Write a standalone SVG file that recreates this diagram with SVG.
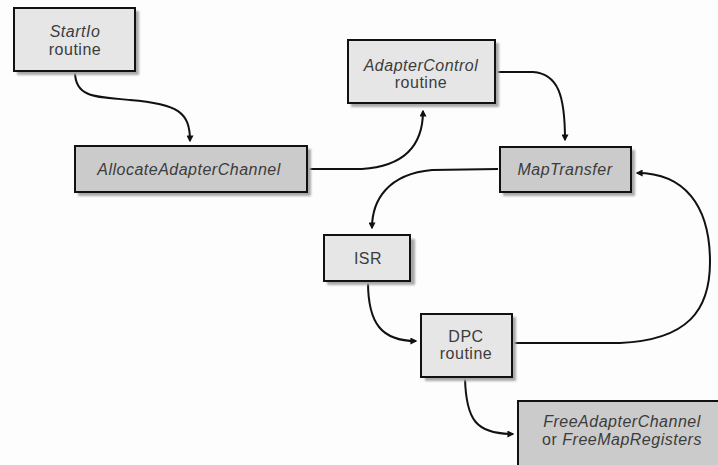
<svg xmlns="http://www.w3.org/2000/svg" width="718" height="465" viewBox="0 0 718 465">
  <style>
    .box { stroke: #111; stroke-width: 2; }
    .light { fill: #e6e6e6; }
    .dark { fill: #cbcbcb; }
    .shadow { fill: #a8a8a8; }
    .label { font-family: "Liberation Sans", Arial, sans-serif; font-size: 16px; fill: #3c3c3c; text-anchor: middle; letter-spacing: 0.5px; }
    .it { font-style: italic; }
    .wire { fill: none; stroke: #111; stroke-width: 2; marker-end: url(#head); }
  </style>
  <defs>
    <marker id="head" viewBox="0 0 10 10" refX="8" refY="5" markerWidth="3.5" markerHeight="3.5" orient="auto" markerUnits="strokeWidth">
      <path d="M0,0 L10,5 L0,10 z" fill="#111"/>
    </marker>
    <filter id="soft" x="-10%" y="-10%" width="130%" height="130%">
      <feGaussianBlur stdDeviation="1"/>
    </filter>
  </defs>

  <rect width="718" height="465" fill="#fdfdfd"/>

  <!-- connectors -->
  <g id="connectors">
    <path class="wire" d="M75,72 C75,96 92,97 130,100 C178,104 190,112 190,141"/>
    <path class="wire" d="M308,169 L362,169 C408,166 423,142 423,111"/>
    <path class="wire" d="M496,72 L533,72 C558,74 565,95 565,140"/>
    <path class="wire" d="M498,169 L432,170 C388,174 372,200 372,228"/>
    <path class="wire" d="M368,282 C368,324 382,341 416,341"/>
    <path class="wire" d="M513,343 L620,343 C688,340 710,310 710,262 C710,205 684,173 637,173"/>
    <path class="wire" d="M465,378 C466,420 476,434 513,434"/>
  </g>

  <!-- StartIo routine -->
  <g id="startio">
    <rect class="shadow" x="17" y="11" width="122" height="64" filter="url(#soft)"/>
    <rect class="box light" x="14" y="8" width="121" height="63"/>
    <text class="label" x="75" y="37"><tspan class="it">StartIo</tspan></text>
    <text class="label" x="75" y="55">routine</text>
  </g>

  <!-- AllocateAdapterChannel -->
  <g id="allocate">
    <rect class="shadow" x="78" y="149" width="233" height="47" filter="url(#soft)"/>
    <rect class="box dark" x="75" y="146" width="232" height="46"/>
    <text class="label it" x="189" y="175">AllocateAdapterChannel</text>
  </g>

  <!-- AdapterControl routine -->
  <g id="adaptercontrol">
    <rect class="shadow" x="351" y="43" width="148" height="64" filter="url(#soft)"/>
    <rect class="box light" x="348" y="40" width="147" height="63"/>
    <text class="label" x="421" y="71"><tspan class="it">AdapterControl</tspan></text>
    <text class="label" x="421" y="88">routine</text>
  </g>

  <!-- MapTransfer -->
  <g id="maptransfer">
    <rect class="shadow" x="503" y="150" width="132" height="46" filter="url(#soft)"/>
    <rect class="box dark" x="500" y="147" width="131" height="45"/>
    <text class="label it" x="565" y="175">MapTransfer</text>
  </g>

  <!-- ISR -->
  <g id="isr">
    <rect class="shadow" x="327" y="239" width="88" height="46" filter="url(#soft)"/>
    <rect class="box light" x="324" y="235" width="86" height="46"/>
    <text class="label" x="368" y="264">ISR</text>
  </g>

  <!-- DPC routine -->
  <g id="dpc">
    <rect class="shadow" x="425" y="317" width="91" height="64" filter="url(#soft)"/>
    <rect class="box light" x="421" y="314" width="91" height="63"/>
    <text class="label" x="466" y="342">DPC</text>
    <text class="label" x="466" y="359">routine</text>
  </g>

  <!-- FreeAdapterChannel or FreeMapRegisters -->
  <g id="freechannel">
    <rect class="box dark" x="518" y="401" width="210" height="70"/>
    <text class="label it" x="622" y="427">FreeAdapterChannel</text>
    <text class="label" x="622" y="445">or <tspan class="it">FreeMapRegisters</tspan></text>
  </g>
</svg>
